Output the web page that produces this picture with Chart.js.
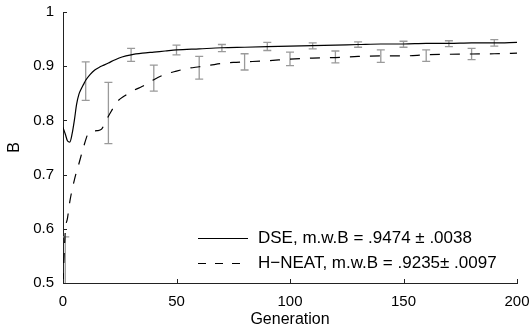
<!DOCTYPE html>
<html>
<head>
<meta charset="utf-8">
<script src="https://cdn.jsdelivr.net/npm/chart.js@4.4.0/dist/chart.umd.min.js"></script>
<style>
  html, body { margin: 0; padding: 0; background: #fff; }
  #wrap { width: 532px; height: 329px; }
</style>
</head>
<body>
<div id="wrap"><canvas id="chart" width="532" height="329"></canvas></div>
<script>
// mean curves
const dseGen = [0, 1, 2, 3, 4, 5, 6, 7, 8, 9, 10, 12, 14, 16, 18, 20, 23, 26, 30, 35, 40, 45, 50, 60, 70, 80, 90, 100, 110, 120, 130, 140, 150, 160, 170, 180, 190, 200];
const dseVal = [0.787, 0.775, 0.762, 0.760, 0.775, 0.800, 0.830, 0.848, 0.858, 0.866, 0.874, 0.885, 0.893, 0.898, 0.902, 0.906, 0.912, 0.917, 0.921, 0.924, 0.926, 0.928, 0.930, 0.932, 0.934, 0.935, 0.936, 0.937, 0.938, 0.939, 0.940, 0.941, 0.941, 0.942, 0.942, 0.943, 0.943, 0.944];

const neatGen = [0, 1, 2, 3, 5, 7, 9, 11, 13, 15, 17, 19, 21, 24, 27, 31, 35, 40, 45, 50, 55, 60, 65, 70, 75, 80, 90, 100, 110, 120, 130, 140, 150, 160, 170, 180, 190, 200];
const neatVal = [0.50, 0.595, 0.62, 0.65, 0.69, 0.72, 0.75, 0.775, 0.780, 0.781, 0.784, 0.800, 0.815, 0.835, 0.845, 0.855, 0.863, 0.875, 0.885, 0.891, 0.896, 0.899, 0.902, 0.905, 0.907, 0.908, 0.910, 0.913, 0.915, 0.916, 0.918, 0.919, 0.919, 0.921, 0.922, 0.9225, 0.923, 0.924];

// error bars (low / high)
const dseErrGen = [10, 30, 50, 70, 90, 110, 130, 150, 170, 190];
const dseErrLow = [0.837, 0.909, 0.921, 0.927, 0.929, 0.932, 0.935, 0.935, 0.936, 0.937];
const dseErrHigh = [0.908, 0.933, 0.939, 0.940, 0.944, 0.943, 0.945, 0.946, 0.947, 0.949];

const neatErrGen = [1, 20, 40, 60, 80, 100, 120, 140, 160, 180];
const neatErrLow = [0.45, 0.757, 0.854, 0.876, 0.893, 0.901, 0.906, 0.907, 0.909, 0.912];
const neatErrHigh = [0.585, 0.870, 0.902, 0.918, 0.923, 0.926, 0.928, 0.930, 0.930, 0.933];

const xTicks = [0, 50, 100, 150, 200];
const yTicks = [0.5, 0.6, 0.7, 0.8, 0.9, 1];
const legendLabels = ['DSE, m.w.B = .9474 \u00b1 .0038', 'H\u2212NEAT, m.w.B = .9235\u00b1 .0097'];

const FONT = 'Liberation Sans, Arial, Helvetica, sans-serif';

const errorBars = {
  id: 'errorBars',
  beforeDatasetsDraw(chart) {
    const { ctx, chartArea, scales: { x, y } } = chart;
    ctx.save();
    ctx.beginPath();
    ctx.rect(chartArea.left, chartArea.top, chartArea.right - chartArea.left, chartArea.bottom - chartArea.top);
    ctx.clip();
    ctx.strokeStyle = '#9a9a9a';
    ctx.lineWidth = 1.3;
    const draw = (gens, lo, hi) => {
      gens.forEach((g, i) => {
        const px = x.getPixelForValue(g);
        const y1 = y.getPixelForValue(lo[i]);
        const y2 = y.getPixelForValue(hi[i]);
        ctx.beginPath();
        ctx.moveTo(px, y1); ctx.lineTo(px, y2);
        ctx.moveTo(px - 4, y1); ctx.lineTo(px + 4, y1);
        ctx.moveTo(px - 4, y2); ctx.lineTo(px + 4, y2);
        ctx.stroke();
      });
    };
    draw(dseErrGen, dseErrLow, dseErrHigh);
    draw(neatErrGen, neatErrLow, neatErrHigh);
    ctx.restore();
  },
  afterDraw(chart) {
    const { ctx, chartArea, scales: { x, y } } = chart;
    ctx.save();
    // inward ticks
    ctx.strokeStyle = '#222';
    ctx.lineWidth = 1;
    ctx.beginPath();
    xTicks.forEach(v => {
      const px = Math.round(x.getPixelForValue(v)) + 0.5;
      ctx.moveTo(px, chartArea.bottom); ctx.lineTo(px, chartArea.bottom - 4);
    });
    yTicks.forEach(v => {
      const py = Math.round(y.getPixelForValue(v)) + 0.5;
      ctx.moveTo(chartArea.left, py); ctx.lineTo(chartArea.left + 4, py);
    });
    ctx.stroke();

    // legend
    ctx.font = '17px ' + FONT;
    ctx.fillStyle = '#000';
    ctx.textBaseline = 'middle';
    ctx.textAlign = 'left';
    const rows = [238, 263];
    chart.data.datasets.forEach((ds, i) => {
      ctx.strokeStyle = '#000';
      ctx.lineWidth = 1;
      ctx.setLineDash(i === 0 ? [] : [8, 9]);
      ctx.beginPath();
      ctx.moveTo(198, rows[i] + 0.5); ctx.lineTo(248, rows[i] + 0.5);
      ctx.stroke();
      ctx.setLineDash([]);
      ctx.fillText(legendLabels[i], 258, rows[i]);
    });
    ctx.restore();
  }
};

new Chart(document.getElementById('chart'), {
  type: 'line',
  data: {
    datasets: [
      {
        label: legendLabels[0],
        data: dseGen.map((g, i) => ({ x: g, y: dseVal[i] })),
        borderColor: '#000',
        borderWidth: 1.2,
        pointRadius: 0,
        cubicInterpolationMode: 'monotone'
      },
      {
        label: legendLabels[1],
        data: neatGen.map((g, i) => ({ x: g, y: neatVal[i] })),
        borderColor: '#000',
        borderWidth: 1.2,
        borderDash: [10, 10],
        pointRadius: 0,
        cubicInterpolationMode: 'monotone'
      }
    ]
  },
  options: {
    responsive: false,
    animation: false,
    devicePixelRatio: 1,
    layout: { padding: { top: 12, right: 15, left: 0, bottom: 0 } },
    plugins: { legend: { display: false }, tooltip: { enabled: false } },
    scales: {
      x: {
        type: 'linear',
        min: 0, max: 200,
        afterBuildTicks: s => { s.ticks = xTicks.map(v => ({ value: v })); },
        afterFit: s => { s.height = 46; s.paddingLeft = 0; s.paddingRight = 0; },
        grid: { drawOnChartArea: false, drawTicks: false },
        border: { color: '#222', width: 1 },
        ticks: { color: '#000', font: { family: FONT, size: 15 }, padding: 10, maxRotation: 0 },
        title: { display: true, text: 'Generation', color: '#000', font: { family: FONT, size: 16 }, padding: { top: 0, bottom: 0 } }
      },
      y: {
        min: 0.5, max: 1,
        afterBuildTicks: s => { s.ticks = yTicks.map(v => ({ value: v })); },
        afterFit: s => { s.width = 63; s.paddingTop = 0; s.paddingBottom = 0; },
        grid: { drawOnChartArea: false, drawTicks: false },
        border: { color: '#222', width: 1 },
        ticks: { color: '#000', font: { family: FONT, size: 15 }, padding: 9, callback: v => (v === 1 ? '1' : v.toFixed(1)) },
        title: { display: true, text: 'B', color: '#000', font: { family: FONT, size: 16 }, padding: { top: 5, bottom: 0 } }
      }
    }
  },
  plugins: [errorBars]
});
</script>
</body>
</html>
